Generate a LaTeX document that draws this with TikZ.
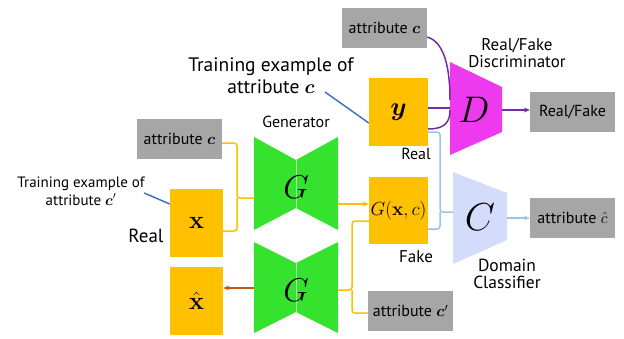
\RequirePackage{fix-cm}
\documentclass[tikz,border=0pt]{standalone}
\usepackage{amsmath,bm}
\usepackage[no-math]{fontspec}
\setmainfont{PT Sans}
\usetikzlibrary{arrows.meta}
\definecolor{gboxc}{HTML}{A6A6A6}
\definecolor{obox}{HTML}{FFC000}
\definecolor{gen}{HTML}{35E32F}
\definecolor{disc}{HTML}{EE3AEE}
\definecolor{cls}{HTML}{D4DCFB}
\definecolor{purp}{HTML}{7030A0}
\definecolor{lblue}{HTML}{9DC3E6}
\definecolor{dblue}{HTML}{4472C4}
\definecolor{brn}{HTML}{C55A11}
\definecolor{orl}{HTML}{FFC000}
\tikzset{
  gbox/.style={fill=gboxc, inner sep=0pt, minimum width=85pt, minimum height=40pt, font=\fontsize{16}{18}\selectfont},
  obox/.style={fill=obox, inner sep=0pt, minimum width=53pt, minimum height=68pt},
  lbl/.style={inner sep=0pt, align=center, font=\fontsize{16}{18}\selectfont},
  bigm/.style={inner sep=0pt},
  oline/.style={draw=orl, line width=1.5pt, rounded corners=3pt},
  pline/.style={draw=purp, line width=1.5pt},
  bline/.style={draw=lblue, line width=1.5pt, rounded corners=3pt},
  tip/.style={-{Stealth[length=6pt,width=5pt]}},
}
\begin{document}
\begin{tikzpicture}[x=1pt,y=-1pt]
\useasboundingbox (0,0) rectangle (624,338);
% shapes
\fill[gen] (254,137) -- (296,160) -- (338,137) -- (338,230) -- (296,208) -- (254,230) -- cycle;
\fill[gen] (254,242) -- (296,263) -- (338,242) -- (338,333) -- (296,312) -- (254,333) -- cycle;
\draw[white!60!gen, line width=0.6pt] (296,160) -- (296,208) (296,263) -- (296,312);
\fill[disc] (450,62) -- (502,87) -- (502,132) -- (450,155) -- cycle;
\fill[cls] (453,172) -- (507,193) -- (507,240) -- (453,264) -- cycle;
\node[bigm, font=\fontsize{33}{33}\selectfont] (G1) at (296,187) {$G$};
\node[bigm, font=\fontsize{33}{33}\selectfont] (G2) at (296,290) {$G$};
\node[bigm, font=\fontsize{37}{37}\selectfont] (D) at (474,110) {$D$};
\node[bigm, font=\fontsize{39}{39}\selectfont] (C) at (480,217) {$C$};
\coordinate (G1w) at (254,198);
\coordinate (G1e) at (338,204);
\coordinate (G2w) at (254,288);
\coordinate (G2e) at (338,290);
\coordinate (Dw) at (450,108);
\coordinate (De) at (502,110);
\coordinate (Cw) at (453,212);
\coordinate (Ce) at (507,218);
% boxes
\node[gbox] (attc) at (179.5,139) {attribute $\bm{c}$};
\node[gbox] (attct) at (384.5,28) {attribute $\bm{c}$};
\node[gbox] (rf) at (572.5,112) {Real/Fake};
\node[gbox] (ahat) at (572.5,218) {attribute $\hat{c}$};
\node[gbox] (acp) at (410.5,311) {attribute $\bm{c}'$};
\node[obox, font=\fontsize{25}{25}\selectfont] (xb) at (196.5,223) {$\mathbf{x}$};
\node[obox, font=\fontsize{25}{25}\selectfont] (xh) at (196.5,301) {$\hat{\mathbf{x}}$};
\node[obox, minimum width=59pt, font=\fontsize{26}{26}\selectfont] (yb) at (398.5,112) {$\bm{y}$};
\node[obox, minimum width=59pt, minimum height=67pt, font=\fontsize{19}{19}\selectfont] (gxc) at (398.5,210.5) {$G(\mathbf{x},c)$};
% labels
\node[lbl, font=\fontsize{19.5}{22}\selectfont] (tr1) at (271,76) {Training example of\\attribute $\bm{c}$};
\node[lbl, font=\fontsize{15}{18}\selectfont] (tr2) at (81,191) {Training example of\\attribute $\bm{c}'$};
\node[lbl] (genl) at (296,122) {Generator};
\node[lbl, font=\fontsize{17}{17}\selectfont] (rfd) at (517,53) {Real/Fake\\Discriminator};
\node[lbl, font=\fontsize{17.5}{17.5}\selectfont] (dcl) at (507,274) {Domain\\Classifier};
\node[lbl] (real1) at (416,154) {Real};
\node[lbl, font=\fontsize{17}{17}\selectfont] (fake) at (416,257) {Fake};
\node[lbl, font=\fontsize{19}{19}\selectfont] (real2) at (146,236) {Real};
% blue pointer lines
\coordinate (p1) at (325,92);
\coordinate (p2) at (144,193);
\draw[dblue, line width=1.5pt] (p1) -- ([yshift=-11pt]yb.west);
\draw[dblue, line width=1.5pt] (p2) -- ([yshift=19pt]xb.west);
% orange
\draw[oline] ([yshift=-4pt]attc.east) -- (237,143) -- (237,198) -- (G1w);
\draw[oline] ([yshift=-8pt]xb.east) -- (237,231) -- (237,198);
\draw[orl, line width=1.5pt, tip] (G1e) -- (G1e -| gxc.west);
\draw[oline] ([yshift=-10.5pt]gxc.west) -- (352,221) -- (352,290) -- (G2e);
\draw[oline] (352,290) -- (352,313) -- (acp.west |- 0,313);
\draw[brn, line width=1.5pt, tip] (G2w) -- (G2w -| xh.east);
% purple
\draw[pline] (attct.east) ++(0,9) .. controls (445,42) and (450,70) .. (450,100);
\draw[pline] (yb.east |- Dw) -- (Dw);
\draw[pline] ([yshift=-17pt]yb.east) .. controls (445,129) and (450,122) .. (450,110);
\draw[pline, tip] (De) -- (De -| rf.west);
% light blue
\draw[bline] ([yshift=-20pt]yb.east) -- (440,132) -- (440,212) -- (Cw);
\draw[bline] ([yshift=-18.5pt]gxc.east) -- (440,229) -- (440,212);
\draw[lblue, line width=1.5pt, tip] (Ce) -- (ahat.west);
\end{tikzpicture}
\end{document}
